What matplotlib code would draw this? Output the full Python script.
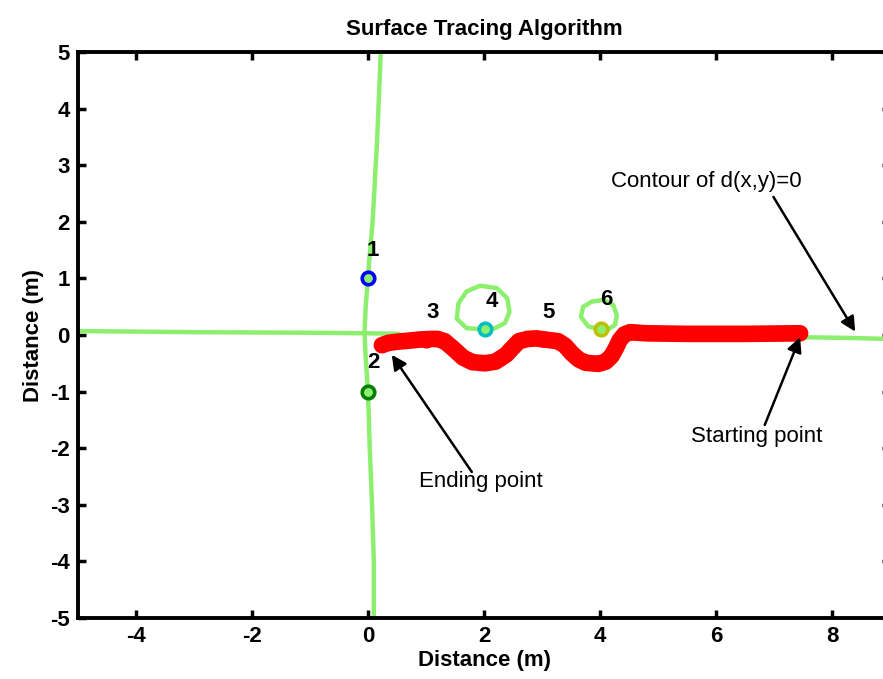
import matplotlib
matplotlib.use("Agg")
import matplotlib.pyplot as plt

# zero contour of d(x,y): vertical branch, left and right horizontal branches, two small loops
vert_x = [0.22, 0.16, 0.08, 0.02, 0.0, -0.04, -0.06, -0.04, 0.0, 0.03, 0.07, 0.1, 0.1]
vert_y = [5.0, 3.5, 2.0, 1.3, 1.0, 0.5, 0.05, -0.4, -1.0, -2.0, -3.0, -4.0, -5.0]
left_x = [-5.0, -3.0, -1.0, 0.0, 0.55]
left_y = [0.07, 0.05, 0.04, 0.03, 0.02]
right_x = [7.45, 8.2, 9.0]
right_y = [-0.04, -0.05, -0.07]
loop4_x = [2.02, 1.70, 1.53, 1.56, 1.70, 1.93, 2.22, 2.40, 2.44, 2.36, 2.19, 2.02]
loop4_y = [0.10, 0.12, 0.29, 0.56, 0.77, 0.87, 0.83, 0.65, 0.41, 0.21, 0.12, 0.10]
loop6_x = [4.02, 3.80, 3.67, 3.71, 3.86, 4.06, 4.23, 4.29, 4.26, 4.14, 4.02]
loop6_y = [0.10, 0.15, 0.32, 0.50, 0.59, 0.62, 0.53, 0.35, 0.18, 0.10, 0.10]

# traced path, listed from the ending point to the starting point
trace_x = [0.24, 0.35, 0.49, 0.70, 0.90, 1.10, 1.20, 1.32, 1.47, 1.64, 1.80, 2.02,
           2.20, 2.38, 2.48, 2.60, 2.75, 2.90, 3.05, 3.28, 3.40, 3.51, 3.63, 3.75,
           3.97, 4.10, 4.20, 4.28, 4.34, 4.42, 4.52, 4.65, 4.80, 5.5, 6.5, 7.45]
trace_y = [-0.18, -0.14, -0.12, -0.10, -0.08, -0.07, -0.07, -0.11, -0.24, -0.40, -0.48, -0.50,
           -0.47, -0.35, -0.24, -0.11, -0.07, -0.06, -0.08, -0.11, -0.19, -0.32, -0.43, -0.49,
           -0.51, -0.47, -0.37, -0.22, -0.09, 0.01, 0.05, 0.04, 0.03, 0.02, 0.02, 0.03]

# numbered reference points
pt_x = [0.0, 0.0, 1.0, 2.02, 3.0, 4.02]
pt_y = [1.0, -1.0, -0.08, 0.10, -0.07, 0.10]
pt_colors = ["#0000ff", "#007f00", "#ff0000", "#00bfbf", "#bf00bf", "#bfbf00"]
lbl_text = ["1", "2", "3", "4", "5", "6"]
lbl_x = [0.09, 0.09, 1.12, 2.13, 3.11, 4.11]
lbl_y = [1.50, -0.48, 0.39, 0.59, 0.39, 0.62]

GREEN = "#8cf06e"

plt.rcParams["font.family"] = ["Liberation Sans", "DejaVu Sans"]
plt.rcParams["axes.unicode_minus"] = False

fig = plt.figure(figsize=(8.83, 6.79), dpi=100)
ax = fig.add_axes([78 / 883, 61 / 679, 812 / 883, 566 / 679])

for xs, ys in [(vert_x, vert_y), (left_x, left_y), (right_x, right_y),
               (loop4_x, loop4_y), (loop6_x, loop6_y)]:
    ax.plot(xs, ys, color=GREEN, lw=3.2, zorder=2,
            solid_capstyle="butt", solid_joinstyle="round")

for x, y, c in zip(pt_x, pt_y, pt_colors):
    ax.plot(x, y, "o", ms=9, mec=c, mfc=GREEN, mew=2.6, zorder=3)

ax.plot(trace_x, trace_y, color="#ff0000", lw=12, zorder=4,
        solid_capstyle="round", solid_joinstyle="round")

for t, x, y in zip(lbl_text, lbl_x, lbl_y):
    ax.text(x, y, t, fontsize=16, fontweight="bold", ha="center", va="center", zorder=5)

arrow = dict(arrowstyle="-|>", color="black", lw=1.8, mutation_scale=22, shrinkA=0, shrinkB=0)
ax.annotate("", xy=(8.40, 0.06), xytext=(6.99, 2.44), arrowprops=arrow, zorder=6)
ax.annotate("", xy=(7.45, -0.04), xytext=(6.84, -1.59), arrowprops=arrow, zorder=6)
ax.annotate("", xy=(0.41, -0.35), xytext=(1.79, -2.42), arrowprops=arrow, zorder=6)
ax.text(5.84, 2.72, "Contour of d(x,y)=0", fontsize=16, ha="center", va="center")
ax.text(6.71, -1.80, "Starting point", fontsize=16, ha="center", va="center")
ax.text(1.94, -2.58, "Ending point", fontsize=16, ha="center", va="center")

ax.set_xlim(-5, 9)
ax.set_ylim(-5, 5)
ax.set_xticks([-4, -2, 0, 2, 4, 6, 8])
ax.set_yticks(range(-5, 6))
ax.tick_params(direction="in", length=6, width=2.5, top=True, right=True,
               labelsize=16, pad=6)
for lab in ax.get_xticklabels() + ax.get_yticklabels():
    lab.set_fontweight("bold")
for sp in ax.spines.values():
    sp.set_linewidth(2.8)

ax.set_title("Surface Tracing Algorithm", fontsize=16, fontweight="bold", pad=12)
ax.set_xlabel("Distance (m)", fontsize=16, fontweight="bold", labelpad=2)
ax.set_ylabel("Distance (m)", fontsize=16, fontweight="bold", labelpad=4)

fig.savefig("out.png", dpi=100)
